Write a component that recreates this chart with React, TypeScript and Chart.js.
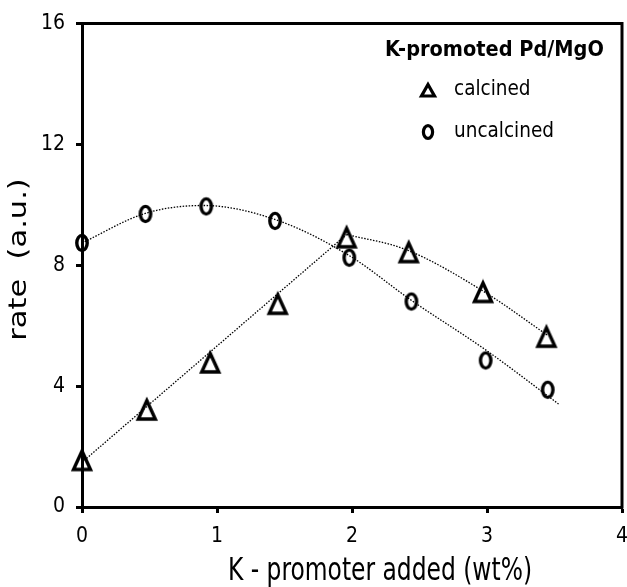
import React, { useEffect, useRef } from 'react';
import { Chart, registerables } from 'chart.js';

Chart.register(...registerables);

// ---- data ----
const xTicks = [0, 1, 2, 3, 4];
const yTicks = [0, 4, 8, 12, 16];

const calcinedX = [0, 0.48, 0.95, 1.45, 1.96, 2.42, 2.97, 3.44];
const calcinedY = [1.54, 3.21, 4.77, 6.71, 8.91, 8.42, 7.1, 5.62];

const uncalcinedX = [0, 0.47, 0.92, 1.43, 1.98, 2.44, 2.99, 3.45];
const uncalcinedY = [8.74, 9.7, 9.95, 9.47, 8.25, 6.8, 4.85, 3.88];

// dotted trend lines as traced on the picture
const calcinedTrendAX = [0, 1.96];
const calcinedTrendAY = [1.48, 9.02];
const calcinedTrendBX = [1.96, 2.4, 2.97, 3.45];
const calcinedTrendBY = [9.02, 8.52, 7.15, 5.68];
const uncalcinedTrendX = [0, 0.47, 0.9, 1.44, 1.98, 2.44, 2.99, 3.53];
const uncalcinedTrendY = [8.74, 9.72, 9.98, 9.5, 8.32, 6.84, 5.2, 3.41];

const legendTitle = 'K-promoted Pd/MgO';
const seriesNames = ['calcined', 'uncalcined'];
const xTitle = 'K - promoter added (wt%)';
const yTitle = 'rate  (a.u.)';

const COND = '"DejaVu Sans Condensed", "DejaVu Sans", sans-serif';

const pts = (xs: number[], ys: number[]) => xs.map((x, i) => ({ x, y: ys[i] }));

function makeTriangle(): HTMLCanvasElement {
  const c = document.createElement('canvas');
  c.width = 26;
  c.height = 28;
  const g = c.getContext('2d')!;
  g.strokeStyle = '#000';
  g.lineWidth = 3.4;
  g.lineJoin = 'miter';
  g.beginPath();
  g.moveTo(13, 4.5);
  g.lineTo(21.5, 23);
  g.lineTo(4.5, 23);
  g.closePath();
  g.stroke();
  return c;
}

function makeEllipse(): HTMLCanvasElement {
  const c = document.createElement('canvas');
  c.width = 18;
  c.height = 22;
  const g = c.getContext('2d')!;
  g.strokeStyle = '#000';
  g.lineWidth = 3.4;
  g.beginPath();
  g.ellipse(9, 11, 5.2, 7.6, 0, 0, Math.PI * 2);
  g.stroke();
  return c;
}

const decorPlugin = {
  id: 'decor',
  afterDraw(chart: any) {
    const { ctx, chartArea: a } = chart;
    ctx.save();
    // top and right frame
    ctx.strokeStyle = '#000';
    ctx.lineWidth = 3;
    ctx.lineCap = 'square';
    ctx.beginPath();
    ctx.moveTo(a.left, a.top);
    ctx.lineTo(a.right, a.top);
    ctx.lineTo(a.right, a.bottom);
    ctx.stroke();

    ctx.fillStyle = '#000';
    // legend title
    ctx.font = 'bold 21.5px ' + COND;
    ctx.textAlign = 'left';
    ctx.textBaseline = 'middle';
    ctx.fillText(legendTitle, 385, 50);

    // legend items
    ctx.font = '20.5px ' + COND;
    ctx.fillText(seriesNames[0], 454, 90);
    ctx.fillText(seriesNames[1], 454, 132);

    // legend triangle
    const tx = 428;
    const ty = 90;
    ctx.lineWidth = 3.2;
    ctx.lineJoin = 'miter';
    ctx.lineCap = 'butt';
    ctx.beginPath();
    ctx.moveTo(tx, ty - 5.5);
    ctx.lineTo(tx + 6.5, ty + 6);
    ctx.lineTo(tx - 6.5, ty + 6);
    ctx.closePath();
    ctx.stroke();
    // legend ellipse
    ctx.beginPath();
    ctx.ellipse(428, 132, 4.6, 6.4, 0, 0, Math.PI * 2);
    ctx.stroke();

    // x title
    ctx.save();
    ctx.translate(380, 580);
    ctx.scale(1, 1.2);
    ctx.font = '26px ' + COND;
    ctx.textAlign = 'center';
    ctx.textBaseline = 'alphabetic';
    ctx.fillText(xTitle, 0, 0);
    ctx.restore();

    // y title
    ctx.save();
    ctx.translate(26, 259.5);
    ctx.rotate(-Math.PI / 2);
    ctx.scale(1.27, 1);
    ctx.font = '24px "DejaVu Sans", sans-serif';
    ctx.textAlign = 'center';
    ctx.textBaseline = 'alphabetic';
    ctx.fillText(yTitle, 0, 0);
    ctx.restore();

    ctx.restore();
  },
};

export default function App() {
  const ref = useRef<HTMLCanvasElement | null>(null);

  useEffect(() => {
    if (!ref.current) return;
    const tri = makeTriangle();
    const ell = makeEllipse();
    const trendStyle = {
      showLine: true,
      pointRadius: 0,
      pointHoverRadius: 0,
      borderColor: '#000',
      borderWidth: 1.3,
      borderDash: [1.5, 1.5],
      fill: false,
      cubicInterpolationMode: 'monotone' as const,
      clip: false as any,
    };
    const chart = new Chart(ref.current, {
      type: 'scatter',
      data: {
        datasets: [
          {
            label: seriesNames[0],
            data: pts(calcinedX, calcinedY),
            pointStyle: tri as any,
            showLine: false,
            clip: false as any,
          },
          {
            label: seriesNames[1],
            data: pts(uncalcinedX, uncalcinedY),
            pointStyle: ell as any,
            showLine: false,
            clip: false as any,
          },
          { label: 'trendA', data: pts(calcinedTrendAX, calcinedTrendAY), ...trendStyle, cubicInterpolationMode: 'default', tension: 0 },
          { label: 'trendB', data: pts(calcinedTrendBX, calcinedTrendBY), ...trendStyle },
          { label: 'trendC', data: pts(uncalcinedTrendX, uncalcinedTrendY), ...trendStyle },
        ] as any,
      },
      options: {
        animation: false,
        responsive: false,
        devicePixelRatio: 1,
        events: [],
        layout: { padding: { left: 0, right: 4, top: 20, bottom: 0 } },
        plugins: {
          legend: { display: false },
          tooltip: { enabled: false },
          title: { display: false },
        },
        scales: {
          x: {
            type: 'linear',
            min: 0,
            max: 4,
            afterBuildTicks: (s: any) => {
              s.ticks = xTicks.map((v) => ({ value: v }));
            },
            afterFit: (s: any) => {
              s.height = 80;
              s.paddingLeft = 0;
              s.paddingRight = 0;
            },
            ticks: {
              color: '#000',
              font: { family: COND, size: 21 },
              padding: 11,
              maxRotation: 0,
            },
            grid: {
              display: true,
              drawOnChartArea: false,
              drawTicks: true,
              tickLength: 6,
              tickWidth: 3,
              tickColor: '#000',
            },
            border: { display: true, color: '#000', width: 3 },
          },
          y: {
            type: 'linear',
            min: 0,
            max: 16,
            afterBuildTicks: (s: any) => {
              s.ticks = yTicks.map((v) => ({ value: v }));
            },
            afterFit: (s: any) => {
              s.width = 82;
            },
            ticks: {
              color: '#000',
              font: { family: COND, size: 21 },
              padding: 11,
            },
            grid: {
              display: true,
              drawOnChartArea: false,
              drawTicks: true,
              tickLength: 6,
              tickWidth: 3,
              tickColor: '#000',
            },
            border: { display: true, color: '#000', width: 3 },
          },
        },
      } as any,
      plugins: [decorPlugin],
    });
    return () => chart.destroy();
  }, []);

  return (
    <div style={{ position: 'absolute', left: 0, top: 0, width: 627, height: 587, background: '#fff' }}>
      <canvas ref={ref} width={627} height={587} style={{ display: 'block', width: 627, height: 587 }} />
    </div>
  );
}
